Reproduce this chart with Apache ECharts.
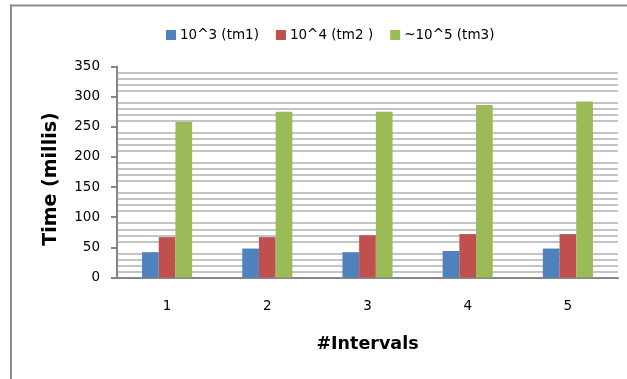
<!DOCTYPE html>
<html><head><meta charset="utf-8">
<script src="https://cdn.jsdelivr.net/npm/echarts@6/dist/echarts.min.js"></script>
<style>html,body{margin:0;padding:0;background:#fff}#c{width:627px;height:379px}</style>
</head><body><div id="c"></div>
<script>
const categories = ['1', '2', '3', '4', '5'];
const seriesNames = ['10^3 (tm1)', '10^4 (tm2 )', '~10^5 (tm3)'];
const tm1 = [42, 48, 42, 44, 48];
const tm2 = [67, 67, 70, 72, 72];
const tm3 = [258, 275, 275, 286, 292];
const colors = ['#4F81BD', '#C0504D', '#9BBB59'];
const font = '"DejaVu Sans", sans-serif';

const chart = echarts.init(document.getElementById('c'));
chart.setOption({
  animation: false,
  graphic: [
    { type: 'line', silent: true, shape: { x1: 11, y1: 4.5, x2: 11, y2: 379 },
      style: { stroke: '#8c8c8c', lineWidth: 2 } },
    { type: 'line', silent: true, shape: { x1: 10, y1: 5.5, x2: 627, y2: 5.5 },
      style: { stroke: '#8c8c8c', lineWidth: 2 } }
  ],
  legend: {
    top: 23, left: 161, itemWidth: 10, itemHeight: 10, itemGap: 17,
    icon: 'rect',
    textStyle: { fontFamily: font, fontSize: 13.5, color: '#000', padding: [0, 0, 0, -1] },
    data: seriesNames
  },
  grid: { left: 117, right: 9, top: 66.5, bottom: 101.5 },
  xAxis: {
    type: 'category', data: categories,
    axisLine: { lineStyle: { color: '#868686', width: 2 } },
    axisTick: { show: false },
    axisLabel: { fontFamily: font, fontSize: 13.5, color: '#000', margin: 22 },
    name: '#Intervals', nameLocation: 'middle', nameGap: 58,
    nameTextStyle: { fontFamily: font, fontSize: 17.5, fontWeight: 'bold', color: '#000' }
  },
  yAxis: {
    type: 'value', min: 0, max: 350, interval: 50,
    axisLine: { show: true, lineStyle: { color: '#868686', width: 2 } },
    axisTick: { show: true, length: 6, lineStyle: { color: '#868686', width: 2 } },
    axisLabel: { fontFamily: font, fontSize: 13.5, color: '#000', margin: 17 },
    splitLine: { show: false },
    minorTick: { show: false, splitNumber: 5 },
    minorSplitLine: { show: true, lineStyle: { color: '#b0b0b0', width: 1.7 } },
    name: 'Time (millis)', nameLocation: 'middle', nameGap: 56, nameRotate: 90,
    nameTextStyle: { fontFamily: font, fontSize: 19, fontWeight: 'bold', color: '#000', padding: [0, 14, 0, 0] }
  },
  series: [
    { name: seriesNames[0], type: 'bar', data: tm1, itemStyle: { color: colors[0] }, barGap: '0%', barCategoryGap: '50%' },
    { name: seriesNames[1], type: 'bar', data: tm2, itemStyle: { color: colors[1] }, barGap: '0%', barCategoryGap: '50%' },
    { name: seriesNames[2], type: 'bar', data: tm3, itemStyle: { color: colors[2] }, barGap: '0%', barCategoryGap: '50%' }
  ]
});
</script></body></html>
